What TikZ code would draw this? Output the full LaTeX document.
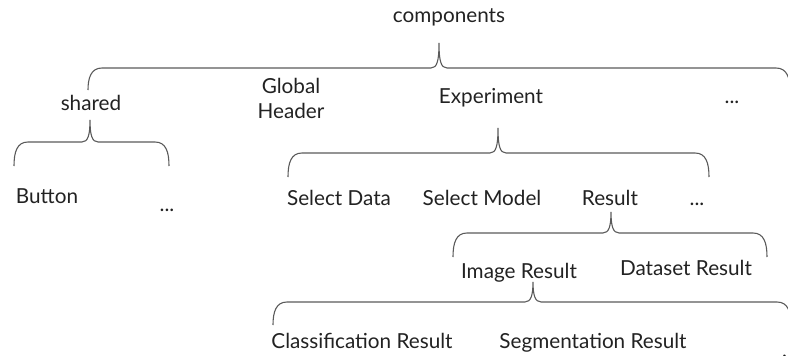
\documentclass[tikz,border=0pt]{standalone}
\usepackage{fontspec}
\setmainfont{Lato}
\definecolor{txt}{HTML}{222222}
\definecolor{ln}{HTML}{5A5A5A}
\newcommand\treebrace[6]{% xL xR xtip yline ytip yend
  \draw[br] (#1,#6) .. controls (#1,#4+10) and (#1+3,#4) .. (#1+14,#4) -- (#3-8,#4)
    .. controls (#3-2,#4) and (#3,#4-7) .. (#3,#5)
    .. controls (#3,#4-7) and (#3+2,#4) .. (#3+8,#4) -- (#2-14,#4)
    .. controls (#2-3,#4) and (#2,#4+10) .. (#2,#6);}
\begin{document}
\begin{tikzpicture}[x=1pt,y=-1pt,
  lbl/.style={anchor=base,inner sep=0pt,text=txt,font=\fontsize{20.7}{25}\selectfont},
  br/.style={draw=ln,line width=1.1pt}]
\useasboundingbox (0,0) rectangle (788,356);
% nodes
\node[lbl] (comp) at (449,22) {components};
\node[lbl] (shared) at (91,110) {shared};
\node[lbl,align=center] (gh) at (291,118) {Global\\Header};
\node[lbl] (exp) at (491,103) {Experiment};
\node[lbl] (dots1) at (732,103) {...};
\node[lbl] (button) at (47,203) {Button};
\node[lbl] (dots2) at (167,211) {...};
\node[lbl] (sd) at (339,205) {Select Data};
\node[lbl] (sm) at (482,205) {Select Model};
\node[lbl] (res) at (610,205) {Result};
\node[lbl] (dots3) at (697,205) {...};
\node[lbl] (ir) at (519,278) {Image Result};
\node[lbl] (dr) at (686,275) {Dataset Result};
\node[lbl] (cr) at (362,348) {Classification Result};
\node[lbl] (sr) at (593,348) {Segmentation Result};
\node[lbl,anchor=base west] (dots4) at (782,357) {...};
% braces
\treebrace{88}{790}{439}{68}{43}{90}
\treebrace{14}{169}{90}{142}{120}{166}
\treebrace{288}{709}{498}{153}{128}{177}
\treebrace{453}{767}{611}{233}{212}{257}
\treebrace{273}{791}{533}{302}{282}{325}
\end{tikzpicture}
\end{document}
